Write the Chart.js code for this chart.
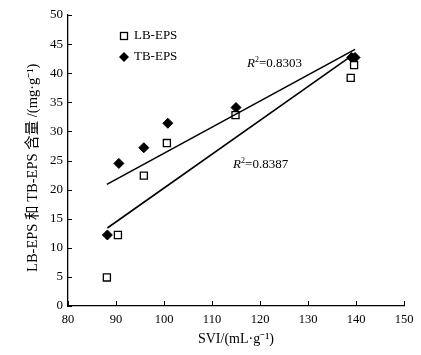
<!DOCTYPE html>
<html><head><meta charset="utf-8">
<script src="https://cdn.jsdelivr.net/npm/chart.js@4"></script>
<style>html,body{margin:0;padding:0;background:#fff}#wrap{width:421px;height:355px}</style>
</head><body><div id="wrap"><canvas id="c" width="421" height="355"></canvas></div>
<script>
const lbX = [88.1, 90.4, 95.8, 100.6, 114.9, 138.9, 139.6];
const lbY = [4.9, 12.2, 22.4, 28.0, 32.8, 39.2, 41.4];
const tbX = [88.2, 90.6, 95.8, 100.8, 115.0, 139.1, 139.8];
const tbY = [12.2, 24.5, 27.2, 31.4, 34.1, 42.7, 42.7];
const tbFitX = [88.1, 139.8];
const tbFitY = [20.9, 44.1];
const lbFitX = [88.2, 139.8];
const lbFitY = [13.4, 43.4];
const r2Labels = ['0.8303', '0.8387'];
const xTitle = 'SVI/(mL·g⁻¹)';
const yTitle = 'LB-EPS 和 TB-EPS 含量 /(mg·g⁻¹)';
const seriesNames = ['LB-EPS', 'TB-EPS'];

const pts = (xs, ys) => xs.map((x, i) => ({x, y: ys[i]}));
const SERIF = "'Liberation Serif','Times New Roman',serif";

const insideTicks = {
  id: 'insideTicks',
  afterDatasetsDraw(chart) {
    const ctx = chart.ctx, xs = chart.scales.x, ys = chart.scales.y;
    ctx.save();
    ctx.strokeStyle = '#000'; ctx.lineWidth = 1;
    xs.ticks.forEach(t => {
      const px = Math.round(xs.getPixelForValue(t.value)) + 0.5;
      ctx.beginPath(); ctx.moveTo(px, ys.bottom); ctx.lineTo(px, ys.bottom - 5); ctx.stroke();
    });
    ys.ticks.forEach(t => {
      const py = Math.round(ys.getPixelForValue(t.value)) + 0.5;
      ctx.beginPath(); ctx.moveTo(xs.left, py); ctx.lineTo(xs.left + 4, py); ctx.stroke();
    });
    ctx.restore();
  }
};

const annots = {
  id: 'annots',
  afterDatasetsDraw(chart) {
    const ctx = chart.ctx, xs = chart.scales.x, ys = chart.scales.y;
    ctx.save();
    ctx.fillStyle = '#000';
    const lx = 124, ly1 = 36, ly2 = 57;
    ctx.strokeStyle = '#000'; ctx.lineWidth = 1.3;
    ctx.strokeRect(lx - 3.5, ly1 - 3.5, 7, 7);
    ctx.beginPath(); ctx.moveTo(lx, ly2 - 5); ctx.lineTo(lx + 5, ly2); ctx.lineTo(lx, ly2 + 5); ctx.lineTo(lx - 5, ly2); ctx.closePath(); ctx.fill();
    ctx.font = '13px ' + SERIF; ctx.textBaseline = 'middle'; ctx.textAlign = 'left';
    ctx.fillText(seriesNames[0], lx + 10, ly1);
    ctx.fillText(seriesNames[1], lx + 10, ly2);
    const drawR2 = (val, dx, dy) => {
      let x = xs.getPixelForValue(dx), y = ys.getPixelForValue(dy);
      ctx.textBaseline = 'alphabetic';
      ctx.font = 'italic 13px ' + SERIF; ctx.fillText('R', x, y); x += ctx.measureText('R').width;
      ctx.font = '8px ' + SERIF; ctx.fillText('2', x, y - 5); x += ctx.measureText('2').width;
      ctx.font = '13px ' + SERIF; ctx.fillText('=' + val, x, y);
    };
    drawR2(r2Labels[0], 117.3, 41.0);
    drawR2(r2Labels[1], 114.4, 23.7);
    ctx.restore();
  }
};

new Chart(document.getElementById('c'), {
  type: 'scatter',
  data: {
    datasets: [
      {label: 'TB fit', type: 'line', data: pts(tbFitX, tbFitY), borderColor: '#000', borderWidth: 1.6, pointRadius: 0, fill: false},
      {label: 'LB fit', type: 'line', data: pts(lbFitX, lbFitY), borderColor: '#000', borderWidth: 1.6, pointRadius: 0, fill: false},
      {label: seriesNames[0], data: pts(lbX, lbY), pointStyle: 'rect', pointRadius: 5, borderColor: '#000', borderWidth: 1.3, backgroundColor: '#fff'},
      {label: seriesNames[1], data: pts(tbX, tbY), pointStyle: 'rectRot', pointRadius: 5, borderColor: '#000', borderWidth: 1, backgroundColor: '#000'}
    ]
  },
  options: {
    responsive: false, animation: false,
    layout: {padding: {top: 15, right: 17, left: 0, bottom: 0}},
    plugins: {legend: {display: false}, tooltip: {enabled: false}},
    scales: {
      x: {
        type: 'linear', min: 80, max: 150,
        afterFit: s => { s.height = 49; },
        ticks: {stepSize: 10, color: '#000', padding: 6, font: {family: SERIF, size: 12.5}},
        grid: {display: true, drawOnChartArea: false, drawTicks: false},
        border: {color: '#000', width: 1.3},
        title: {display: true, text: xTitle, color: '#000', font: {family: SERIF, size: 14}, padding: {top: 0, bottom: 7}}
      },
      y: {
        type: 'linear', min: 0, max: 50,
        afterFit: s => { s.width = 68; },
        ticks: {stepSize: 5, color: '#000', padding: 5, font: {family: SERIF, size: 13}},
        grid: {display: true, drawOnChartArea: false, drawTicks: false},
        border: {color: '#000', width: 1.3},
        title: {display: true, text: yTitle + '\u00a0\u00a0\u00a0\u00a0', color: '#000', font: {family: SERIF + ",'Noto Sans CJK SC'", size: 14.5}, padding: {top: 24, bottom: 0}}
      }
    }
  },
  plugins: [insideTicks, annots]
});
</script></body></html>
